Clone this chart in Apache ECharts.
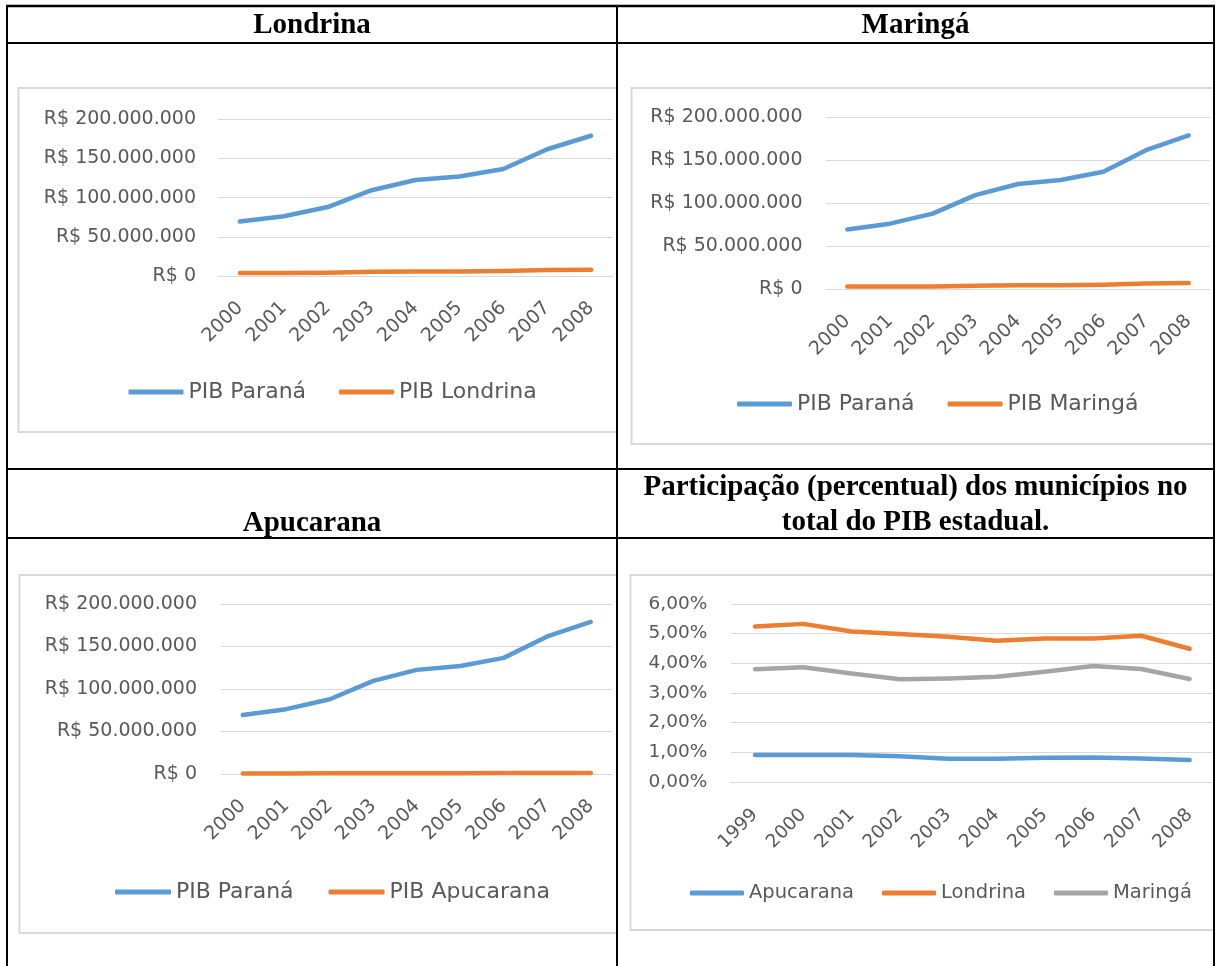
<!DOCTYPE html>
<html>
<head>
<meta charset="utf-8">
<script src="https://cdn.jsdelivr.net/npm/echarts@6/dist/echarts.min.js"></script>
<style>
html,body{margin:0;padding:0;background:#fff;}
#c{width:1216px;height:966px;}
</style>
</head>
<body>
<div id="c"></div>
<script>
// ---- data ----
const years = ['2000','2001','2002','2003','2004','2005','2006','2007','2008'];
const yearsPct = ['1999','2000','2001','2002','2003','2004','2005','2006','2007','2008'];
const paranaPIB = [69500000, 76300000, 88000000, 109500000, 122500000, 127000000, 136600000, 161800000, 179000000];
const londrinaPIB = [3900000, 3950000, 4200000, 5300000, 5700000, 5900000, 6400000, 7600000, 7900000];
const maringaPIB = [3200000, 3250000, 3350000, 4200000, 4600000, 4700000, 5400000, 6700000, 7300000];
const apucaranaPIB = [630000, 690000, 760000, 850000, 950000, 1010000, 1090000, 1270000, 1310000];
const apucaranaPct = [0.91, 0.91, 0.91, 0.87, 0.78, 0.78, 0.82, 0.83, 0.79, 0.74];
const londrinaPct = [5.24, 5.33, 5.07, 4.99, 4.90, 4.76, 4.84, 4.84, 4.93, 4.49];
const maringaPct = [3.80, 3.87, 3.66, 3.46, 3.49, 3.55, 3.72, 3.91, 3.81, 3.47];
const headers = ['Londrina', 'Maringá', 'Apucarana'];
const pctTitle = ['Participação (percentual) dos municípios no', 'total do PIB estadual.'];

// ---- styles ----
const BLUE = '#5b9bd5', ORANGE = '#ed7d31', GRAY = '#a5a5a5';
const GRID = '#d9d9d9', LABEL = '#595959';
const FONT = 'DejaVu Sans';
const SERIF = 'Liberation Serif';

function brl(v){
  if (v === 0) return 'R$ 0';
  return 'R$ ' + String(v).replace(/\B(?=(\d{3})+(?!\d))/g, '.');
}
function pct(v){ return v.toFixed(2).replace('.', ',') + '%'; }

const grids = [
  {left: 218, top: 119.3, width: 395, height: 156.7},
  {left: 826, top: 117.3, width: 384, height: 172},
  {left: 221, top: 604, width: 391.5, height: 170},
  {left: 730.8, top: 604, width: 483, height: 178}
];

function xAx(i, data, fs, margin){
  return {
    type: 'category', gridIndex: i, data: data, boundaryGap: true,
    axisLine: {show: true, lineStyle: {color: GRID, width: 1}},
    axisTick: {show: false},
    axisLabel: {rotate: 45, margin: margin, fontSize: fs, color: LABEL, fontFamily: FONT, interval: 0}
  };
}
function yAx(i, max, interval, fmt, fs, margin){
  return {
    type: 'value', gridIndex: i, min: 0, max: max, interval: interval,
    axisLine: {show: false}, axisTick: {show: false},
    splitLine: {lineStyle: {color: GRID, width: 1}},
    axisLabel: {formatter: fmt, fontSize: fs, color: LABEL, fontFamily: FONT, margin: margin}
  };
}
function ser(name, data, color, i){
  return {
    type: 'line', name: name, data: data, xAxisIndex: i, yAxisIndex: i,
    showSymbol: false, symbol: 'none', smooth: false, animation: false,
    lineStyle: {color: color, width: 4.5, cap: 'round', join: 'round'},
    itemStyle: {color: color}
  };
}
function leg(names, left, top, fs, w, gap){
  return {
    data: names.map(n => ({name: n, icon: 'roundRect'})),
    left: left, top: top, orient: 'horizontal',
    itemWidth: w, itemHeight: 5, itemGap: gap,
    textStyle: {fontSize: fs, color: LABEL, fontFamily: FONT},
    selectedMode: false
  };
}

// table & decoration graphics
const g = [];
function hline(x1, x2, y, w, c, z){ g.push({type:'line', shape:{x1:x1,y1:y,x2:x2,y2:y}, style:{stroke:c, lineWidth:w}, z: z}); }
function vline(x, y1, y2, w, c, z){ g.push({type:'line', shape:{x1:x,y1:y1,x2:x,y2:y2}, style:{stroke:c, lineWidth:w}, z: z}); }
function box(left, top, bottom, right){
  g.push({type:'polyline', shape:{points:[[right,top],[left,top],[left,bottom],[right,bottom]]}, style:{stroke:GRID, lineWidth:2, fill:null}, z: 1});
}
box(18.5, 88, 432, 616);
box(631.5, 88, 444, 1213);
box(19.5, 575, 933, 616);
box(630.5, 575, 930, 1213);

// black table lines
hline(6, 1215, 6, 2.5, '#000', 100);
hline(6, 1215, 43, 2, '#000', 100);
hline(6, 1215, 469, 2, '#000', 100);
hline(6, 1215, 538, 2, '#000', 100);
vline(7, 5, 966, 2, '#000', 100);
vline(617, 5, 966, 2, '#000', 100);
vline(1214, 5, 966, 2, '#000', 100);

function htext(t, x, y){
  g.push({type:'text', x: x, y: y, z: 100, style:{text: t, font: 'bold 29px "' + SERIF + '"', fill: '#000', textAlign: 'center', textVerticalAlign: 'middle'}});
}
htext(headers[0], 312, 26);
htext(headers[1], 915.5, 26);
htext(headers[2], 312, 523.5);
htext(pctTitle[0], 915.5, 488);
htext(pctTitle[1], 915.5, 523);

const option = {
  backgroundColor: '#fff',
  animation: false,
  grid: grids,
  xAxis: [xAx(0, years, 19, 29), xAx(1, years, 19, 29), xAx(2, years, 19, 29), xAx(3, yearsPct, 18.5, 30)],
  yAxis: [
    yAx(0, 200000000, 50000000, brl, 19, 22),
    yAx(1, 200000000, 50000000, brl, 19, 23.5),
    yAx(2, 200000000, 50000000, brl, 19, 24),
    yAx(3, 6, 1, pct, 18.5, 23.5)
  ],
  legend: [
    leg(['PIB Paraná', 'PIB Londrina'], 123.5, 376, 22, 55, 33),
    leg(['PIB Paraná', 'PIB Maringá'], 732, 388, 22, 55, 33),
    leg(['PIB Paraná', 'PIB Apucarana'], 110, 876, 22, 56, 35),
    leg(['Apucarana', 'Londrina', 'Maringá'], 685, 878, 19.5, 54, 28)
  ],
  series: [
    ser('PIB Paraná', paranaPIB, BLUE, 0),
    ser('PIB Londrina', londrinaPIB, ORANGE, 0),
    ser('PIB Paraná', paranaPIB, BLUE, 1),
    ser('PIB Maringá', maringaPIB, ORANGE, 1),
    ser('PIB Paraná', paranaPIB, BLUE, 2),
    ser('PIB Apucarana', apucaranaPIB, ORANGE, 2),
    ser('Apucarana', apucaranaPct, BLUE, 3),
    ser('Londrina', londrinaPct, ORANGE, 3),
    ser('Maringá', maringaPct, GRAY, 3)
  ],
  graphic: g
};
const chart = echarts.init(document.getElementById('c'), null, {renderer: 'canvas', width: 1216, height: 966});
chart.setOption(option);
</script>
</body>
</html>
